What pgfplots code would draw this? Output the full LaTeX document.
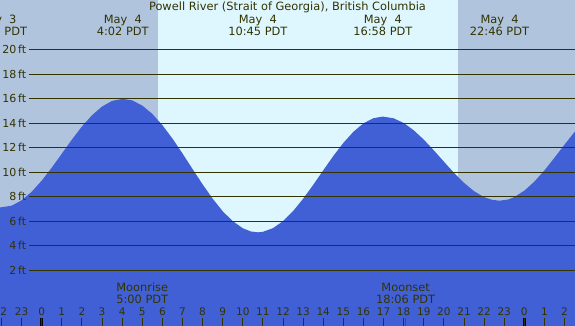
\documentclass[border=0pt]{standalone}
\usepackage{pgfplots}
\pgfplotsset{compat=1.18}
\usepackage{fontspec}
\setmainfont{DejaVu Sans}
\definecolor{night}{RGB}{176,196,222}
\definecolor{day}{RGB}{222,247,255}
\definecolor{tide}{RGB}{65,96,214}
\definecolor{ink}{RGB}{51,51,0}
\begin{document}
\begin{tikzpicture}
\path[use as bounding box] (0,0) rectangle (575pt,326pt);
\clip (0,0) rectangle (575pt,326pt);
\begin{axis}[
  at={(0,0)}, anchor=south west,
  width=575pt, height=326pt, scale only axis,
  xmin=-2.074, xmax=26.52, ymin=-2.55, ymax=24.07,
  axis background/.style={fill=night},
  axis line style={draw=none},
  axis on top,
  ytick=\empty,
  xtick={-2,-1,...,26},
  xtick pos=bottom,
  tick align=inside,
  major tick length=8pt,
  every tick/.style={ink, line width=1pt},
  xticklabels={,23,0,1,2,3,4,5,6,7,8,9,10,11,12,13,14,15,16,17,18,19,20,21,22,23,0,1,2},
  xticklabel style={anchor=base, yshift=10pt, font=\fontsize{10.5}{12}\selectfont, text=ink, inner sep=0pt},
  clip=false,
]
% daylight
\addplot[fill=day, draw=none] coordinates {(5.77,-3) (20.72,-3) (20.72,25) (5.77,25)} -- cycle;
% tide
\addplot[fill=tide, draw=none] coordinates {
(-2.2,-3) (-2.2,7.12) (-2.1,7.125) (-1.5,7.27) (-1.0,7.71) (-0.5,8.41) (0,9.32) (0.5,10.38) (1,11.52) (1.5,12.67) (2,13.74) (2.5,14.66) (3,15.37) (3.5,15.83) (4.033,16.0)
(4.5,15.87) (5,15.45) (5.5,14.77) (6,13.85) (6.5,12.76) (7,11.54) (7.5,10.27) (8,9.02) (8.5,7.85) (9,6.82) (9.5,6.01) (10,5.43) (10.4,5.17) (10.75,5.1)
(11,5.14) (11.5,5.44) (12,6.01) (12.5,6.83) (13,7.84) (13.5,8.97) (14,10.16) (14.5,11.33) (15,12.40) (15.5,13.31) (16,14.00) (16.5,14.42) (16.967,14.55)
(17.5,14.41) (18,14.03) (18.5,13.43) (19,12.67) (19.5,11.79) (20,10.87) (20.5,9.96) (21,9.14) (21.5,8.46) (22,7.97) (22.4,7.75) (22.767,7.68)
(23.2,7.78) (23.5,7.98) (24,8.50) (24.5,9.24) (25,10.16) (25.5,11.19) (26,12.26) (26.6,13.51) (26.6,-3)
} -- cycle;
% depth lines
\addplot[ink, line width=1pt] coordinates {(-0.632,2) (26.6,2)};
\addplot[ink, line width=1pt] coordinates {(-0.632,4) (26.6,4)};
\addplot[ink, line width=1pt] coordinates {(-0.632,6) (26.6,6)};
\addplot[ink, line width=1pt] coordinates {(-0.632,8) (26.6,8)};
\addplot[ink, line width=1pt] coordinates {(-0.632,10) (26.6,10)};
\addplot[ink, line width=1pt] coordinates {(-0.632,12) (26.6,12)};
\addplot[ink, line width=1pt] coordinates {(-0.632,14) (26.6,14)};
\addplot[ink, line width=1pt] coordinates {(-0.632,16) (26.6,16)};
\addplot[ink, line width=1pt] coordinates {(-0.632,18) (26.6,18)};
\addplot[ink, line width=1pt] coordinates {(-0.632,20) (26.6,20)};
% special ticks
\addplot[black, line width=3.3pt] coordinates {(0,-2.6) (0,-1.9)};
\addplot[black, line width=3.3pt] coordinates {(24,-2.6) (24,-1.9)};
\addplot[red, line width=1pt] coordinates {(5,-2.6) (5,-1.9)};
\addplot[red, line width=1pt] coordinates {(18.1,-2.6) (18.1,-1.9)};
% labels
\begin{scope}[every node/.style={text=ink, inner sep=0pt, font=\fontsize{11.4}{13}\selectfont}]
\node[anchor=east, font=\fontsize{11}{13}\selectfont] at (axis cs:-0.76,2) {2\,ft};
\node[anchor=east, font=\fontsize{11}{13}\selectfont] at (axis cs:-0.76,4) {4\,ft};
\node[anchor=east, font=\fontsize{11}{13}\selectfont] at (axis cs:-0.76,6) {6\,ft};
\node[anchor=east, font=\fontsize{11}{13}\selectfont] at (axis cs:-0.76,8) {8\,ft};
\node[anchor=east, font=\fontsize{11}{13}\selectfont] at (axis cs:-0.76,10) {10\,ft};
\node[anchor=east, font=\fontsize{11}{13}\selectfont] at (axis cs:-0.76,12) {12\,ft};
\node[anchor=east, font=\fontsize{11}{13}\selectfont] at (axis cs:-0.76,14) {14\,ft};
\node[anchor=east, font=\fontsize{11}{13}\selectfont] at (axis cs:-0.76,16) {16\,ft};
\node[anchor=east, font=\fontsize{11}{13}\selectfont] at (axis cs:-0.76,18) {18\,ft};
\node[anchor=east, font=\fontsize{11}{13}\selectfont] at (axis cs:-0.76,20) {20\,ft};
\node[anchor=base, font=\fontsize{10.5}{12}\selectfont] at (axis cs:-1.885,-1.73) {2};
\node[anchor=base] at (rel axis cs:0.5,0.9663) {Powell River (Strait of Georgia), British Columbia};
\node[anchor=base] at (axis cs:-2.2,22.16) {May\ \ 3};
\node[anchor=base] at (axis cs:-2.2,21.15) {21:48 PDT};
\node[anchor=base] at (axis cs:4.033,22.16) {May\ \ 4};
\node[anchor=base] at (axis cs:4.033,21.15) {4:02 PDT};
\node[anchor=base] at (axis cs:10.75,22.16) {May\ \ 4};
\node[anchor=base] at (axis cs:10.75,21.15) {10:45 PDT};
\node[anchor=base] at (axis cs:16.967,22.16) {May\ \ 4};
\node[anchor=base] at (axis cs:16.967,21.15) {16:58 PDT};
\node[anchor=base] at (axis cs:22.767,22.16) {May\ \ 4};
\node[anchor=base] at (axis cs:22.767,21.15) {22:46 PDT};
\node[anchor=base] at (axis cs:5,0.253) {Moonrise};
\node[anchor=base] at (axis cs:5,-0.69) {5:00 PDT};
\node[anchor=base] at (axis cs:18.1,0.253) {Moonset};
\node[anchor=base] at (axis cs:18.1,-0.69) {18:06 PDT};
\end{scope}
\end{axis}
\end{tikzpicture}
\end{document}
